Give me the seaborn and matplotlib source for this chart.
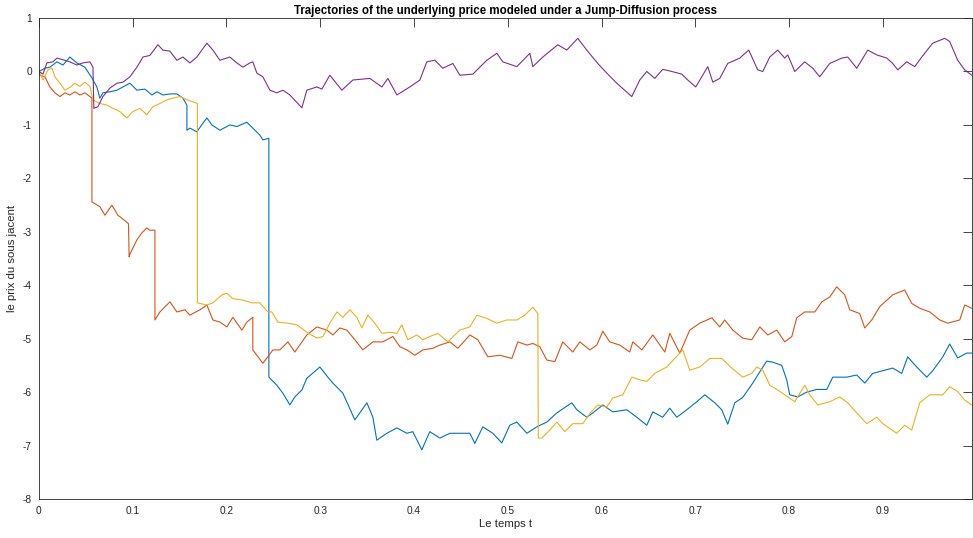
import matplotlib
matplotlib.use("Agg")
import matplotlib.pyplot as plt
import seaborn as sns

# trajectories (t, value); repeated t = jump
t_blue = [0, 0.0064, 0.0117, 0.0192, 0.0256, 0.033, 0.0405, 0.049, 0.0565, 0.0618, 0.065, 0.0682,
          0.0757, 0.0832, 0.0938, 0.097, 0.1045, 0.113, 0.1205, 0.1258, 0.1322, 0.1397, 0.1471, 0.1535,
          0.1578, 0.1578, 0.161, 0.1684, 0.1748, 0.1791, 0.1844, 0.193, 0.2036, 0.2111, 0.2217, 0.2281,
          0.2356, 0.2388, 0.2452, 0.2452, 0.2537, 0.2601, 0.2676, 0.2729, 0.2804, 0.2857, 0.2996, 0.3081,
          0.3134, 0.3241, 0.3369, 0.3497, 0.3561, 0.3603, 0.371, 0.3817, 0.3923, 0.3987, 0.4083, 0.4168,
          0.4275, 0.4382, 0.4488, 0.4595, 0.4648, 0.4733, 0.484, 0.4936, 0.5021, 0.5096, 0.5203, 0.5309,
          0.5416, 0.5522, 0.5682, 0.5736, 0.5842, 0.5906, 0.6013, 0.6119, 0.6269, 0.6375, 0.6482, 0.6546,
          0.6652, 0.6727, 0.6802, 0.6908, 0.7015, 0.71, 0.7207, 0.7281, 0.7345, 0.742, 0.7505, 0.7612,
          0.7687, 0.7761, 0.7825, 0.7921, 0.7974, 0.8006, 0.8092, 0.8188, 0.8294, 0.8401, 0.8465, 0.8614,
          0.8721, 0.8806, 0.8891, 0.8998, 0.9104, 0.92, 0.9264, 0.936, 0.9467, 0.9531, 0.9638, 0.9712,
          0.9797, 0.9893, 0.9947]
y_blue = [0, 0.06, 0.08, 0.18, 0.12, 0.27, 0.16, 0.08, -0.12, -0.29, -0.5, -0.4,
          -0.38, -0.35, -0.25, -0.22, -0.35, -0.33, -0.44, -0.38, -0.44, -0.42, -0.42, -0.5,
          -0.63, -1.1, -1.06, -1.13, -0.97, -0.87, -1.0, -1.1, -1.0, -1.03, -0.95, -1.06,
          -1.19, -1.28, -1.25, -5.72, -5.87, -6.02, -6.24, -6.09, -5.96, -5.74, -5.53, -5.72,
          -5.83, -6.02, -6.52, -6.2, -6.47, -6.9, -6.77, -6.67, -6.77, -6.74, -7.08, -6.74,
          -6.86, -6.77, -6.77, -6.77, -6.96, -6.65, -6.77, -6.95, -6.62, -6.56, -6.77, -6.65,
          -6.56, -6.39, -6.2, -6.33, -6.47, -6.39, -6.24, -6.37, -6.33, -6.47, -6.62, -6.37,
          -6.47, -6.3, -6.47, -6.33, -6.18, -6.05, -6.2, -6.33, -6.6, -6.2, -6.1, -5.83,
          -5.62, -5.42, -5.44, -5.5, -5.77, -6.05, -6.09, -6.0, -5.95, -5.95, -5.72, -5.72,
          -5.68, -5.83, -5.65, -5.6, -5.55, -5.65, -5.34, -5.53, -5.72, -5.6, -5.34, -5.1,
          -5.36, -5.27, -5.27]

t_orange = [0, 0.0011, 0.0064, 0.0117, 0.0171, 0.0224, 0.0277, 0.033, 0.0384, 0.0437, 0.049, 0.0544,
            0.0565, 0.0565, 0.065, 0.0704, 0.0778, 0.0842, 0.0938, 0.0955, 0.0962, 0.097, 0.1045, 0.1098,
            0.1151, 0.1183, 0.1237, 0.1237, 0.129, 0.1397, 0.1471, 0.1557, 0.161, 0.1716, 0.1791, 0.1855,
            0.193, 0.2004, 0.2068, 0.2164, 0.2217, 0.2281, 0.2281, 0.2324, 0.2388, 0.2441, 0.2495, 0.2569,
            0.2655, 0.2729, 0.2857, 0.2964, 0.307, 0.3134, 0.3209, 0.3284, 0.3369, 0.3454, 0.3561, 0.3667,
            0.3774, 0.3849, 0.3923, 0.4009, 0.4094, 0.42, 0.4275, 0.4382, 0.4467, 0.4595, 0.468, 0.4787,
            0.4915, 0.5043, 0.5107, 0.5203, 0.5267, 0.5341, 0.5416, 0.5501, 0.5586, 0.5693, 0.5768, 0.5874,
            0.5949, 0.6013, 0.6087, 0.6194, 0.63, 0.6333, 0.6429, 0.6546, 0.6674, 0.6727, 0.6834, 0.694,
            0.7047, 0.7175, 0.726, 0.7313, 0.7399, 0.7505, 0.7601, 0.7687, 0.7772, 0.7868, 0.7953, 0.8028,
            0.8081, 0.8166, 0.8273, 0.8348, 0.8433, 0.8507, 0.8593, 0.8646, 0.8753, 0.8806, 0.8881, 0.8966,
            0.9104, 0.9232, 0.9307, 0.9392, 0.9499, 0.9606, 0.9691, 0.9819, 0.9872, 0.9947]
y_orange = [0, -0.07, -0.1, -0.29, -0.4, -0.47, -0.4, -0.44, -0.38, -0.44, -0.4, -0.47,
            -0.5, -2.44, -2.53, -2.69, -2.5, -2.69, -2.82, -2.85, -3.47, -3.42, -3.15, -3.02,
            -2.93, -2.97, -2.97, -4.65, -4.5, -4.31, -4.5, -4.46, -4.56, -4.46, -4.37, -4.65,
            -4.69, -4.78, -4.6, -4.84, -4.69, -4.6, -5.21, -5.31, -5.46, -5.34, -5.21, -5.21,
            -5.06, -5.25, -4.93, -4.78, -4.84, -4.93, -4.8, -4.84, -5.02, -5.21, -5.06, -5.06,
            -4.96, -5.15, -5.21, -5.31, -5.21, -5.18, -5.12, -5.06, -5.18, -4.93, -5.02, -5.34,
            -5.31, -5.37, -5.06, -5.12, -5.09, -5.15, -5.4, -5.43, -5.06, -5.25, -5.06, -5.21,
            -5.12, -4.86, -5.06, -5.12, -5.25, -5.06, -5.21, -4.93, -5.25, -4.9, -5.27, -4.84,
            -4.71, -4.61, -4.78, -4.65, -4.84, -4.99, -5.02, -4.78, -4.93, -4.84, -5.06, -4.96,
            -4.61, -4.5, -4.5, -4.31, -4.22, -4.03, -4.18, -4.46, -4.53, -4.8, -4.65, -4.4,
            -4.18, -4.09, -4.34, -4.43, -4.5, -4.65, -4.71, -4.65, -4.37, -4.43]

t_yellow = [0, 0.0043, 0.0096, 0.0139, 0.0171, 0.0224, 0.0277, 0.033, 0.0384, 0.0437, 0.049, 0.0544,
            0.0576, 0.065, 0.0725, 0.0789, 0.0864, 0.0938, 0.1002, 0.1077, 0.1151, 0.1215, 0.129, 0.1365,
            0.1429, 0.1503, 0.1578, 0.1642, 0.169, 0.169, 0.1791, 0.1855, 0.1951, 0.2004, 0.2068, 0.2175,
            0.2271, 0.2356, 0.2441, 0.2484, 0.2548, 0.2655, 0.2751, 0.2857, 0.2964, 0.3028, 0.3102, 0.3177,
            0.3241, 0.3316, 0.339, 0.3443, 0.3507, 0.3582, 0.3657, 0.3742, 0.3817, 0.387, 0.3934, 0.403,
            0.4094, 0.4168, 0.4254, 0.436, 0.4488, 0.4595, 0.467, 0.4776, 0.4883, 0.4989, 0.5096, 0.5181,
            0.5267, 0.532, 0.5325, 0.5362, 0.5448, 0.5522, 0.5608, 0.5693, 0.58, 0.5874, 0.5959, 0.6055,
            0.6119, 0.6226, 0.6322, 0.6407, 0.6482, 0.6567, 0.6695, 0.678, 0.6866, 0.694, 0.7047, 0.7154,
            0.7281, 0.7388, 0.7505, 0.7601, 0.7655, 0.7719, 0.7793, 0.7868, 0.7953, 0.806, 0.8166, 0.822,
            0.8305, 0.8433, 0.8539, 0.8625, 0.8721, 0.8827, 0.8934, 0.8998, 0.9147, 0.9232, 0.9307, 0.9392,
            0.9499, 0.9638, 0.9712, 0.9797, 0.9872, 0.9947]
y_yellow = [0, -0.16, 0.03, 0.06, -0.1, -0.22, -0.35, -0.3, -0.22, -0.28, -0.2, -0.28,
            -0.53, -0.6, -0.63, -0.69, -0.75, -0.87, -0.75, -0.69, -0.81, -0.66, -0.6, -0.53,
            -0.5, -0.47, -0.53, -0.57, -0.6, -4.33, -4.37, -4.33, -4.18, -4.15, -4.25, -4.28,
            -4.33, -4.33, -4.5, -4.5, -4.69, -4.71, -4.74, -4.88, -4.99, -4.96, -4.71, -4.5,
            -4.6, -4.46, -4.6, -4.8, -4.56, -4.71, -4.9, -4.88, -4.9, -4.74, -5.02, -4.93,
            -5.02, -4.96, -4.9, -5.06, -4.84, -4.78, -4.56, -4.62, -4.71, -4.65, -4.65, -4.56,
            -4.41, -4.53, -6.86, -6.86, -6.71, -6.56, -6.74, -6.59, -6.59, -6.4, -6.24, -6.28,
            -6.11, -6.05, -5.72, -5.77, -5.8, -5.65, -5.53, -5.37, -5.21, -5.59, -5.53, -5.37,
            -5.37, -5.55, -5.72, -5.65, -5.53, -5.59, -5.87, -5.95, -6.05, -6.18, -5.87, -6.05,
            -6.24, -6.18, -6.09, -6.2, -6.39, -6.59, -6.47, -6.59, -6.77, -6.62, -6.71, -6.2,
            -6.05, -6.05, -5.9, -5.99, -6.15, -6.24]

t_purple = [0, 0.0043, 0.0085, 0.0149, 0.0192, 0.0256, 0.033, 0.0405, 0.0469, 0.0544, 0.0576, 0.0586,
            0.0629, 0.0682, 0.0757, 0.0832, 0.0896, 0.097, 0.1045, 0.1109, 0.1183, 0.1269, 0.1322, 0.1397,
            0.1471, 0.1535, 0.161, 0.1684, 0.1791, 0.1855, 0.193, 0.2036, 0.2111, 0.2175, 0.2249, 0.2281,
            0.2324, 0.2388, 0.2463, 0.2537, 0.2601, 0.2676, 0.2804, 0.2857, 0.2964, 0.3017, 0.3102, 0.323,
            0.3348, 0.3529, 0.3657, 0.3721, 0.3817, 0.3955, 0.4062, 0.4136, 0.4222, 0.4307, 0.4414, 0.4488,
            0.4627, 0.4776, 0.4883, 0.4947, 0.5096, 0.5235, 0.5267, 0.5373, 0.5533, 0.5629, 0.5746, 0.5842,
            0.5959, 0.6055, 0.6162, 0.6322, 0.6407, 0.6482, 0.6567, 0.6652, 0.6748, 0.6855, 0.6919, 0.7004,
            0.7132, 0.7186, 0.726, 0.7345, 0.7473, 0.7569, 0.7665, 0.7719, 0.7793, 0.7878, 0.7953, 0.7985,
            0.806, 0.8166, 0.8252, 0.8326, 0.8433, 0.8561, 0.8625, 0.8721, 0.8838, 0.8934, 0.9041, 0.9104,
            0.9158, 0.9254, 0.9339, 0.9414, 0.9531, 0.9659, 0.9712, 0.9797, 0.9872, 0.9947]
y_purple = [0, -0.05, 0.16, 0.18, 0.25, 0.22, 0.18, 0.12, 0.16, 0.18, 0.08, -0.69,
            -0.66, -0.47, -0.31, -0.22, -0.2, -0.1, 0.08, 0.27, 0.3, 0.5, 0.4, 0.38,
            0.21, 0.27, 0.16, 0.27, 0.53, 0.4, 0.21, 0.27, 0.16, 0.08, 0.16, 0.18,
            -0.03, -0.1, -0.35, -0.4, -0.35, -0.44, -0.68, -0.35, -0.29, -0.33, -0.07, -0.35,
            -0.16, -0.13, -0.29, -0.13, -0.44, -0.29, -0.16, 0.18, 0.21, 0.06, 0.15, -0.07,
            -0.05, 0.21, 0.34, 0.18, 0.09, 0.34, 0.09, 0.27, 0.5, 0.4, 0.62, 0.4,
            0.15, -0.03, -0.22, -0.47, -0.16, 0.0, -0.13, 0.04, 0.0, -0.05, -0.16, -0.29,
            0.09, -0.2, -0.13, 0.15, 0.25, 0.4, 0.03, 0.0, 0.27, 0.4, 0.25, 0.31,
            0.0, 0.18, 0.06, -0.1, 0.15, 0.25, 0.27, 0.06, 0.4, 0.31, 0.25, 0.15,
            0.03, 0.18, 0.09, 0.27, 0.53, 0.62, 0.56, 0.21, 0.03, -0.07]

x_ticks = [0, 0.1, 0.2, 0.3, 0.4, 0.5, 0.6, 0.7, 0.8, 0.9]
x_tick_labels = ["0", "0.1", "0.2", "0.3", "0.4", "0.5", "0.6", "0.7", "0.8", "0.9"]
y_ticks = [-8, -7, -6, -5, -4, -3, -2, -1, 0, 1]

series = [
    (t_blue, y_blue, "#0072bd"),
    (t_orange, y_orange, "#d95319"),
    (t_yellow, y_yellow, "#edb120"),
    (t_purple, y_purple, "#7e2f8e"),
]

sns.set_style("white")
plt.rcParams["font.family"] = ["Liberation Sans", "DejaVu Sans"]
plt.rcParams["axes.unicode_minus"] = False

fig = plt.figure(figsize=(9.73, 5.38), dpi=100)
ax = fig.add_axes([0.040, 0.0725, 0.959, 0.894])

for t, y, c in series:
    sns.lineplot(x=t, y=y, color=c, sort=False, estimator=None, linewidth=0.8, ax=ax)

ax.set_xlim(0, 0.995)
ax.set_ylim(-8, 1)
ax.set_xticks(x_ticks)
ax.set_xticklabels(x_tick_labels)
ax.set_yticks(y_ticks)
ax.tick_params(direction="in", top=True, right=True, length=6.5, width=0.6,
               colors="#262626", labelsize=7.3, pad=5)
for s in ax.spines.values():
    s.set_color("#262626")
    s.set_linewidth(0.6)

ax.set_title("Trajectories of the underlying price modeled under a Jump-Diffusion process",
             fontsize=8.3, fontweight="bold", color="black", pad=3)
ax.set_xlabel("Le temps t", fontsize=8.2, color="#262626", labelpad=2)
ax.set_ylabel("le prix du sous jacent", fontsize=8.2, color="#262626", labelpad=4)

fig.savefig("out.png", dpi=100)
